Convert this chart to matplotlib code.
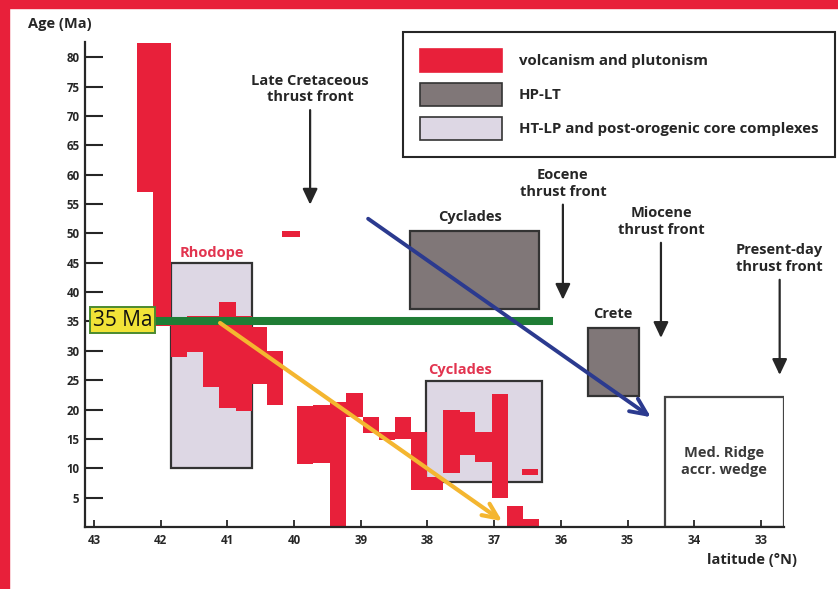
import matplotlib
matplotlib.use("Agg")
import matplotlib.pyplot as plt
from matplotlib.patches import Patch, Rectangle

plt.rcParams['font.family'] = ['Open Sans', 'DejaVu Sans']

RED = '#e8203a'
HPLT = '#807778'
HTLP = '#ddd7e4'
INK = '#262626'
FS = 10.5

# volcanism and plutonism: north/south latitude edges and age range (Ma)
volc_north = [42.36, 42.12, 41.85, 41.61, 41.37, 41.13, 40.87, 40.63, 40.41, 40.18,
              39.96, 39.72, 39.46, 39.22, 38.97, 38.73, 38.49, 38.25, 38.01,
              37.77, 37.51, 37.29, 37.03, 36.81, 36.57, 36.58]
volc_south = [42.12, 41.85, 41.61, 41.37, 41.13, 40.87, 40.63, 40.41, 40.17, 39.91,
              39.72, 39.46, 39.22, 38.97, 38.73, 38.49, 38.25, 38.01, 37.77,
              37.51, 37.29, 37.03, 36.79, 36.57, 36.33, 36.34]
volc_young = [57.0, 34.3, 29.0, 29.8, 23.8, 20.3, 19.8, 24.4, 20.8, 49.4,
              10.7, 10.9, 0.0, 18.7, 16.0, 14.8, 15.0, 6.3, 6.3,
              9.2, 12.3, 11.1, 4.9, 0.0, 0.0, 8.9]
volc_old = [82.4, 82.4, 34.5, 36.0, 36.0, 38.3, 36.0, 34.0, 30.0, 50.4,
            20.6, 20.8, 21.3, 22.8, 18.7, 16.2, 18.7, 16.2, 8.5,
            19.9, 19.6, 16.2, 22.7, 3.6, 1.4, 9.9]

# HP-LT metamorphism
hplt_names = ['Cyclades', 'Crete']
hplt_north = [38.26, 35.59]
hplt_south = [36.33, 34.83]
hplt_young = [37.1, 22.3]
hplt_old = [50.4, 33.9]
hplt_label_lat = [37.36, 35.22]
hplt_label_age = [52.8, 36.3]

# HT-LP and post-orogenic core complexes
htlp_names = ['Rhodope', 'Cyclades']
htlp_north = [41.85, 38.02]
htlp_south = [40.63, 36.28]
htlp_young = [10.0, 7.7]
htlp_old = [45.0, 24.9]
htlp_label_lat = [41.23, 37.51]
htlp_label_age = [46.7, 26.7]

# Mediterranean Ridge accretionary wedge
wedge_north = 34.44
wedge_south = 32.66
wedge_old = 22.1

# thrust fronts
front_labels = ['Late Cretaceous\nthrust front', 'Eocene\nthrust front',
                'Miocene\nthrust front', 'Present-day\nthrust front']
front_lat = [39.76, 35.97, 34.50, 32.72]
front_from = [71.0, 54.9, 48.4, 42.1]
front_to = [54.9, 38.7, 32.2, 25.9]

# migration trends
line_35_lat = [42.3, 36.12]
yellow_lat = [41.11, 36.88]
yellow_age = [34.75, 1.0]
blue_lat = [38.89, 34.65]
blue_age = [52.5, 18.7]

legend_labels = ['volcanism and plutonism', 'HP-LT',
                 'HT-LP and post-orogenic core complexes']

fig = plt.figure(figsize=(8.38, 5.89), dpi=100)
ax = fig.add_axes([85 / 838, 62 / 589, 699 / 838, 485 / 589])

# boxes
for n, s, y0, y1 in zip(htlp_north, htlp_south, htlp_young, htlp_old):
    ax.bar(s, y1 - y0, width=n - s, bottom=y0, align='edge',
           facecolor=HTLP, edgecolor='#333333', linewidth=1.6, zorder=1)
for n, s, y0, y1 in zip(hplt_north, hplt_south, hplt_young, hplt_old):
    ax.bar(s, y1 - y0, width=n - s, bottom=y0, align='edge',
           facecolor=HPLT, edgecolor='#333333', linewidth=1.6, zorder=1)
ax.bar(wedge_south, wedge_old, width=wedge_north - wedge_south, bottom=0,
       align='edge', facecolor='white', edgecolor='#444444', linewidth=1.6, zorder=1)

# red bars
for n, s, y0, y1 in zip(volc_north, volc_south, volc_young, volc_old):
    ax.bar(s, y1 - y0, width=n - s, bottom=y0, align='edge',
           color=RED, linewidth=0, zorder=2)

# 35 Ma line
ax.plot(line_35_lat, [35, 35], color='#1f7d35', lw=5.8, solid_capstyle='butt', zorder=3)
ax.text(42.57, 35.2, '35 Ma', fontsize=15, ha='center', va='center', color='#111111',
        zorder=6, bbox=dict(boxstyle='square,pad=0.12', facecolor='#f1e337',
                            edgecolor='#4b8a2f', linewidth=1.4))

ax.annotate('', xy=(yellow_lat[1], yellow_age[1]), xytext=(yellow_lat[0], yellow_age[0]),
            arrowprops=dict(arrowstyle='->,head_length=1.1,head_width=0.5', color='#f4b630',
                            lw=3.0, shrinkA=0, shrinkB=0, mutation_scale=10), zorder=4)
ax.annotate('', xy=(blue_lat[1], blue_age[1]), xytext=(blue_lat[0], blue_age[0]),
            arrowprops=dict(arrowstyle='->,head_length=1.2,head_width=0.55', color='#2b3a8f',
                            lw=2.8, shrinkA=0, shrinkB=0, mutation_scale=10), zorder=4)

for lab, lat, a0, a1 in zip(front_labels, front_lat, front_from, front_to):
    ax.annotate('', xy=(lat, a1), xytext=(lat, a0),
                arrowprops=dict(arrowstyle='-|>,head_length=0.95,head_width=0.45', color=INK,
                                lw=1.6, shrinkA=0, shrinkB=0, mutation_scale=10), zorder=4)
    ax.text(lat, a0 + 3.6, lab, ha='center', va='center', fontsize=FS,
            fontweight='bold', color=INK, linespacing=1.25)

for name, lat, age in zip(hplt_names, hplt_label_lat, hplt_label_age):
    ax.text(lat, age, name, ha='center', va='center', fontsize=FS,
            fontweight='bold', color=INK)
for name, lat, age in zip(htlp_names, htlp_label_lat, htlp_label_age):
    ax.text(lat, age, name, ha='center', va='center', fontsize=FS,
            fontweight='bold', color='#e2344f')
ax.text((wedge_north + wedge_south) / 2, 11.2, 'Med. Ridge\naccr. wedge', ha='center',
        va='center', fontsize=FS, fontweight='bold', color='#3a3a3a', linespacing=1.25)

ax.set_xlim(43.135, 32.655)
ax.set_ylim(0, 82.6)
ax.set_yticks(range(5, 85, 5))
ax.set_xticks(range(43, 32, -1))
ax.tick_params(axis='y', direction='in', length=13, width=1.5, pad=4,
               labelsize=8.3, colors=INK)
ax.tick_params(axis='x', direction='in', length=5, width=1.3, pad=5,
               labelsize=8.3, colors=INK)
for lab in ax.get_xticklabels() + ax.get_yticklabels():
    lab.set_fontweight('bold')
for side in ['top', 'right']:
    ax.spines[side].set_visible(False)
for side in ['left', 'bottom']:
    ax.spines[side].set_linewidth(1.6)
    ax.spines[side].set_color(INK)
ax.patch.set_alpha(0)

fig.text(28 / 838, 1 - 24 / 589, 'Age (Ma)', fontsize=FS, fontweight='bold',
         color=INK, va='center', ha='left')
fig.text(797 / 838, 1 - 560 / 589, 'latitude (°N)', fontsize=FS, fontweight='bold',
         color=INK, va='center', ha='right')

handles = [Patch(facecolor=RED, edgecolor=RED, linewidth=1.2),
           Patch(facecolor=HPLT, edgecolor='#333333', linewidth=1.2),
           Patch(facecolor=HTLP, edgecolor='#333333', linewidth=1.2)]
leg = fig.legend(handles, legend_labels,
                 loc='upper left', bbox_to_anchor=(403 / 838, 1 - 32 / 589),
                 fontsize=10.8, handlelength=5.47, handleheight=2.08, labelspacing=0.67,
                 handletextpad=1.15, borderpad=1.1, fancybox=False, framealpha=1,
                 edgecolor=INK, borderaxespad=0)
leg.get_frame().set_linewidth(1.5)
for t in leg.get_texts():
    t.set_fontweight('bold')
    t.set_color(INK)

# red frame
fig.add_artist(Rectangle((0, 1 - 8 / 589), 1, 8 / 589, transform=fig.transFigure,
                         color=RED, zorder=10))
fig.add_artist(Rectangle((0, 0), 9 / 838, 1, transform=fig.transFigure,
                         color=RED, zorder=10))

fig.savefig('out.png', dpi=100, facecolor='white')
